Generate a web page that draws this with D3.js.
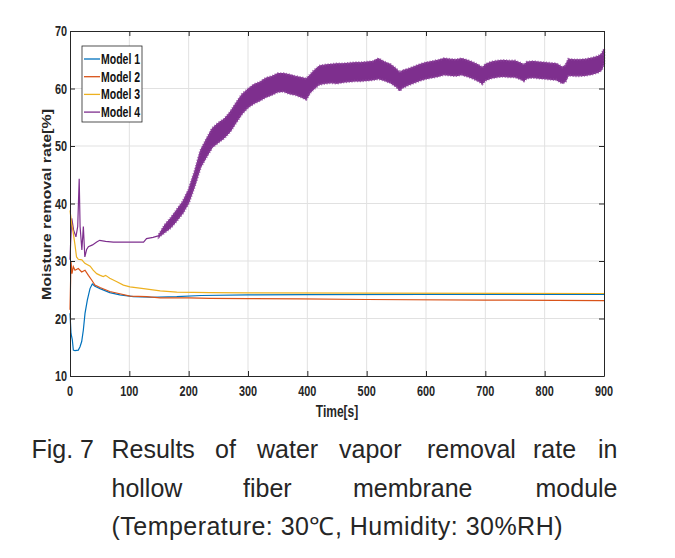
<!DOCTYPE html>
<html><head><meta charset="utf-8">
<script src="https://cdn.jsdelivr.net/npm/d3@7"></script>
<style>html,body{margin:0;padding:0;background:#fff;}svg{display:block;}</style>
</head><body>
<svg id="chart" width="675" height="558"></svg>
<script>
// ---------- data ----------
const xTicks = [0,100,200,300,400,500,600,700,800,900];
const yTicks = [10,20,30,40,50,60,70];
const seriesNames = ["Model 1","Model 2","Model 3","Model 4"];
const seriesColors = ["#0072BD","#D95319","#EDB120","#7E2F8E"];

const model1 = [[0,20.9],[1.7,17.4],[3.9,16.3],[5.6,14.5],[8.4,14.4],[14,14.5],[16.9,15.1],[19.7,16.0],[22.5,18.0],[25.3,20.9],[29.2,23.2],[33.7,25.2],[37.6,26.0],[42,25.6],[50.6,25.2],[67,24.5],[84,24.1],[107,23.8],[136,23.7],[180,23.8],[221,24.0],[300,24.1],[400,24.15],[600,24.2],[900,24.2]];
const model2 = [[0,21.5],[1.7,29.9],[3.4,27.8],[5.6,29.0],[8.4,28.4],[14,28.7],[19.7,28.1],[25.3,28.4],[31,27.5],[36.5,26.7],[42,25.8],[50.6,25.4],[67,24.7],[84,24.3],[101,23.9],[129,23.8],[152,23.6],[200,23.6],[236,23.5],[300,23.45],[389,23.4],[500,23.3],[700,23.2],[900,23.1]];
const model3 = [[0,38.8],[2.8,36.5],[5.6,34.8],[8.4,32.8],[11,30.7],[14,30.3],[20,30.2],[25,29.6],[34,29.1],[39,28.4],[45,27.8],[51,27.5],[56,27.3],[60,27.5],[67,27.0],[79,26.4],[90,25.8],[101,25.5],[124,25.2],[152,24.8],[180,24.6],[236,24.5],[300,24.45],[500,24.4],[900,24.35]];
const model4Early = [[0,30.2],[1,33.0],[3,37.4],[6,35.4],[10,34.2],[13,36.0],[15.5,44.3],[17,36.0],[20,31.9],[22.5,36.0],[25,30.7],[28,32.0],[31,32.5],[38,32.8],[45,33.3],[50,33.6],[60,33.4],[73,33.3],[90,33.3],[110,33.3],[124,33.3],[129,33.9],[140,34.1],[150,34.4]];
// [time, lower edge, upper edge] of the noisy Model 4 band
const model4Band = [[150,34.2,34.6],[160,35.0,36.3],[170,35.8,37.5],[180,37.0,38.9],[190,38.3,40.3],[200,40.1,42.4],[210,43.0,45.5],[220,46.3,49.2],[230,48.1,51.2],[240,49.8,53.1],[250,50.6,54.0],[260,51.4,54.7],[270,52.5,55.9],[280,54.1,57.5],[290,55.6,59.0],[300,56.7,59.9],[310,57.4,60.7],[320,57.9,61.1],[330,58.5,61.8],[340,58.9,62.1],[350,59.4,62.6],[360,59.5,62.6],[370,59.1,62.4],[380,58.9,62.1],[390,58.5,61.9],[398,58.1,61.7],[405,59.3,62.4],[410,59.8,63.0],[420,60.7,63.9],[430,60.9,64.1],[440,61.0,64.2],[450,60.9,64.3],[460,61.1,64.3],[470,61.2,64.4],[480,61.3,64.5],[490,61.3,64.5],[500,61.4,64.6],[510,61.5,64.7],[520,61.7,65.2],[530,61.4,64.6],[540,61.0,64.2],[550,60.3,63.4],[556,59.6,62.8],[560,60.1,63.1],[570,60.6,63.4],[580,61.0,63.8],[590,61.4,64.2],[600,61.7,64.5],[610,61.9,64.7],[620,62.1,64.9],[630,62.4,65.2],[640,62.3,65.1],[650,62.2,65.0],[660,62.4,65.2],[670,62.1,64.9],[680,61.7,64.5],[690,61.2,64.0],[695,60.8,63.6],[700,61.4,64.2],[710,61.8,64.6],[720,62.0,64.8],[730,62.1,64.9],[740,62.0,64.8],[750,62.0,64.8],[760,61.6,64.4],[765,61.3,64.1],[770,61.8,64.6],[780,61.9,64.7],[790,61.8,64.6],[800,61.7,64.5],[810,61.6,64.4],[820,61.5,64.3],[830,60.9,63.7],[835,61.2,64.0],[840,62.3,65.1],[850,62.2,65.0],[860,62.2,65.0],[870,62.3,65.1],[880,62.5,65.3],[890,62.8,65.6],[896,63.2,66.0],[900,64.4,66.8]];

const xLabel = "Time[s]";
const yLabel = "Moisture removal rate[%]";
const captionLine1 = ["Fig. 7","Results","of","water","vapor","removal","rate","in"];
const captionLine2 = ["hollow","fiber","membrane","module"];
const captionLine3 = "(Temperature: 30℃, Humidity: 30%RH)";

// ---------- drawing ----------
const svg = d3.select("#chart");
const L = 70, R = 604, T = 31, B = 376;
const x = d3.scaleLinear().domain([0,900]).range([L,R]);
const y = d3.scaleLinear().domain([10,70]).range([B,T]);
const axisColor = "#262626";
const SQ = 0.75; // horizontal squash of the reference text
const tf = "'Liberation Sans', Arial, sans-serif";

// grid
const grid = svg.append("g");
grid.selectAll("line.gx").data(xTicks.slice(1,-1)).join("line")
  .attr("x1",d=>x(d)).attr("x2",d=>x(d)).attr("y1",T).attr("y2",B)
  .attr("stroke","#e1e1e1").attr("stroke-width",1);
grid.selectAll("line.gy").data(yTicks.slice(1,-1)).join("line")
  .attr("y1",d=>y(d)).attr("y2",d=>y(d)).attr("x1",L).attr("x2",R)
  .attr("stroke","#e1e1e1").attr("stroke-width",1);

// series
const lineGen = d3.line().x(d=>x(d[0])).y(d=>y(d[1]));
const areaGen = d3.area().x(d=>x(d[0])).y0(d=>y(d[1])).y1(d=>y(d[2]));
const plot = svg.append("g");
plot.append("path").datum(model4Band).attr("d",areaGen)
  .attr("fill",seriesColors[3]).attr("stroke",seriesColors[3]).attr("stroke-width",1);
// fuzzy edge of the noisy band (style only)
plot.append("path").datum(model4Band).attr("d",areaGen)
  .attr("fill","none").attr("stroke","#8d449c").attr("stroke-opacity",0.75)
  .attr("stroke-width",2.6).attr("stroke-dasharray","1.2 1.6");
plot.append("path").datum(model4Early).attr("d",lineGen)
  .attr("fill","none").attr("stroke",seriesColors[3]).attr("stroke-width",1.2);
[[model1,0],[model2,1],[model3,2]].forEach(([data,i])=>{
  plot.append("path").datum(data).attr("d",lineGen)
    .attr("fill","none").attr("stroke",seriesColors[i]).attr("stroke-width",1.2);
});

// axes (box with inward ticks)
const ax = svg.append("g");
ax.append("g").attr("transform",`translate(0,${B})`).call(d3.axisBottom(x).tickValues(xTicks).tickSize(-5).tickSizeOuter(0).tickFormat(""));
ax.append("g").attr("transform",`translate(0,${T})`).call(d3.axisTop(x).tickValues(xTicks).tickSize(-5).tickSizeOuter(0).tickFormat(""));
ax.append("g").attr("transform",`translate(${L},0)`).call(d3.axisLeft(y).tickValues(yTicks).tickSize(-5).tickSizeOuter(0).tickFormat(""));
ax.append("g").attr("transform",`translate(${R},0)`).call(d3.axisRight(y).tickValues(yTicks).tickSize(-5).tickSizeOuter(0).tickFormat(""));
ax.selectAll("path.domain, line").attr("stroke",axisColor).attr("stroke-width",1);

// tick labels
const lbl = svg.append("g").attr("font-family",tf).attr("font-weight","bold").attr("font-size",14.5).attr("fill",axisColor);
lbl.selectAll("text.xt").data(xTicks).join("text")
  .attr("transform",d=>`translate(${x(d)},${B+20}) scale(${SQ},1)`)
  .attr("text-anchor","middle").text(d=>d);
lbl.selectAll("text.yt").data(yTicks).join("text")
  .attr("transform",d=>`translate(${L-3},${y(d)+5}) scale(${SQ},1)`)
  .attr("text-anchor","end").text(d=>d);
lbl.append("text").attr("transform",`translate(${(L+R)/2},${B+41}) scale(${SQ},1)`)
  .attr("text-anchor","middle").attr("font-size",16).text(xLabel);
lbl.append("text").attr("transform",`translate(51,${(T+B)/2+1}) scale(${SQ},1) rotate(-90)`)
  .attr("text-anchor","middle").attr("font-size",16).text(yLabel);

// legend
const lg = svg.append("g");
lg.append("rect").attr("x",82).attr("y",46).attr("width",60).attr("height",76)
  .attr("fill","#fff").attr("stroke",axisColor).attr("stroke-width",0.8);
seriesNames.forEach((n,i)=>{
  const yy = 59 + i*17.7;
  lg.append("line").attr("x1",84).attr("x2",100).attr("y1",yy).attr("y2",yy)
    .attr("stroke",seriesColors[i]).attr("stroke-width",1.3);
  lg.append("text").attr("transform",`translate(101,${yy+5}) scale(${SQ},1)`)
    .attr("font-family",tf).attr("font-weight","bold").attr("font-size",14)
    .attr("fill","#111").text(n);
});

// caption
const cap = svg.append("g").attr("font-family",tf).attr("font-size",25).attr("fill","#262626");
const l1x = [31.5,111.5,215,257,339,427,533,null];
captionLine1.forEach((w,i)=>{
  const t = cap.append("text").attr("y",457.5).text(w);
  if (l1x[i]===null) t.attr("x",617.5).attr("text-anchor","end"); else t.attr("x",l1x[i]);
});
const l2x = [111.5,243,353,null];
captionLine2.forEach((w,i)=>{
  const t = cap.append("text").attr("y",497).text(w);
  if (l2x[i]===null) t.attr("x",617.5).attr("text-anchor","end"); else t.attr("x",l2x[i]);
});
cap.append("text").attr("x",111.5).attr("y",535).attr("textLength",451)
  .attr("lengthAdjust","spacing").text(captionLine3);
</script>
</body></html>
